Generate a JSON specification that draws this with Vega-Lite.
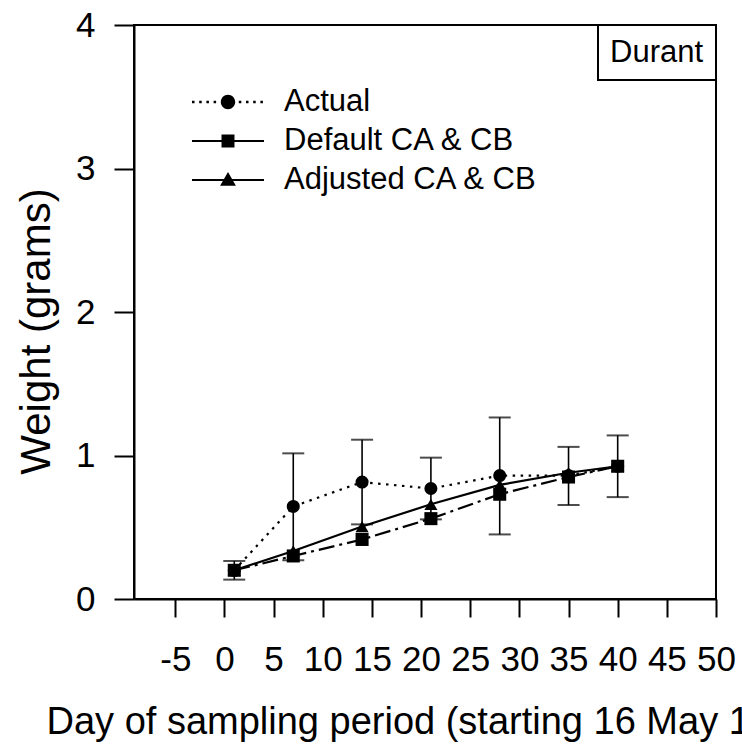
{
  "$schema": "https://vega.github.io/schema/vega-lite/v6.json",
  "width": 582,
  "height": 574,
  "autosize": {"type": "none"},
  "padding": {"left": 134, "top": 25, "right": 26, "bottom": 148},
  "background": "white",
  "config": {
    "font": "Liberation Sans",
    "view": {"stroke": "black", "strokeWidth": 2},
    "axis": {"grid": false, "domainColor": "black", "domainWidth": 2, "tickColor": "black", "tickWidth": 2, "labelColor": "black", "titleColor": "black", "titleFontWeight": "normal", "labelFlush": false, "labelOverlap": false}
  },
  "data": {
    "values": [
      {"series": "Actual", "day": 1, "weight": 0.20, "lo": 0.135, "hi": 0.265},
      {"series": "Actual", "day": 7, "weight": 0.645, "lo": 0.27, "hi": 1.015},
      {"series": "Actual", "day": 14, "weight": 0.815, "lo": 0.52, "hi": 1.11},
      {"series": "Actual", "day": 21, "weight": 0.77, "lo": 0.555, "hi": 0.985},
      {"series": "Actual", "day": 28, "weight": 0.86, "lo": 0.45, "hi": 1.265},
      {"series": "Actual", "day": 35, "weight": 0.86, "lo": 0.655, "hi": 1.06},
      {"series": "Actual", "day": 40, "weight": 0.925, "lo": 0.71, "hi": 1.14},
      {"series": "Default CA & CB", "day": 1, "weight": 0.20},
      {"series": "Default CA & CB", "day": 7, "weight": 0.30},
      {"series": "Default CA & CB", "day": 14, "weight": 0.415},
      {"series": "Default CA & CB", "day": 21, "weight": 0.56},
      {"series": "Default CA & CB", "day": 28, "weight": 0.73},
      {"series": "Default CA & CB", "day": 35, "weight": 0.85},
      {"series": "Default CA & CB", "day": 40, "weight": 0.925},
      {"series": "Adjusted CA & CB", "day": 1, "weight": 0.20},
      {"series": "Adjusted CA & CB", "day": 7, "weight": 0.335},
      {"series": "Adjusted CA & CB", "day": 14, "weight": 0.505},
      {"series": "Adjusted CA & CB", "day": 21, "weight": 0.66},
      {"series": "Adjusted CA & CB", "day": 28, "weight": 0.795},
      {"series": "Adjusted CA & CB", "day": 35, "weight": 0.88},
      {"series": "Adjusted CA & CB", "day": 40, "weight": 0.925}
    ]
  },
  "encoding": {
    "x": {
      "field": "day", "type": "quantitative",
      "scale": {"domain": [-9.2, 50], "nice": false, "zero": false},
      "axis": {
        "values": [-5, 0, 5, 10, 15, 20, 25, 30, 35, 40, 45, 50],
        "labelExpr": "'' + datum.value",
        "tickSize": 18, "labelFontSize": 35, "labelPadding": 25,
        "title": "Day of sampling period (starting 16 May 1999)",
        "titleFontSize": 38, "titleAnchor": "start", "titleAlign": "left",
        "titleX": -88, "titleY": 134, "titleBaseline": "alphabetic", "titleLimit": 3000
      }
    }
  },
  "resolve": {"scale": {"shape": "independent"}, "legend": {"shape": "independent"}},
  "layer": [
    {
      "transform": [{"filter": "datum.series === 'Actual'"}],
      "mark": {"type": "errorbar", "ticks": {"size": 22, "thickness": 2}, "rule": {"strokeWidth": 1.6}},
      "encoding": {
        "y": {"field": "lo", "type": "quantitative", "scale": {"domain": [0, 4], "nice": false},
          "axis": {"values": [0, 1, 2, 3, 4], "labelExpr": "'' + datum.value", "tickSize": 20, "labelFontSize": 35, "labelPadding": 19,
            "title": "Weight (grams)", "titleFontSize": 42, "titleAngle": 270, "titleAlign": "center", "titleBaseline": "middle", "titleX": -98, "titleY": 306}},
        "y2": {"field": "hi"},
        "color": {"datum": "Durant", "scale": {"range": ["black"]},
          "legend": {"title": null, "orient": "top-right", "offset": 0, "symbolSize": 0, "symbolOpacity": 0, "symbolStrokeWidth": 0,
            "labelFontSize": 31, "labelColor": "black", "labelOffset": -31, "padding": 12, "strokeColor": "black",
            "encode": {"legend": {"update": {"strokeWidth": {"value": 2}}}}}}
      }
    },
    {
      "transform": [{"filter": "datum.series === 'Actual'"}],
      "mark": {"type": "line", "color": "black", "strokeWidth": 2.2, "strokeDash": [2.5, 5.5]},
      "encoding": {"y": {"field": "weight", "type": "quantitative"}}
    },
    {
      "transform": [{"filter": "datum.series === 'Default CA & CB'"}],
      "mark": {"type": "line", "color": "black", "strokeWidth": 2.2, "strokeDash": [16, 5, 3, 5]},
      "encoding": {"y": {"field": "weight", "type": "quantitative"}}
    },
    {
      "transform": [{"filter": "datum.series === 'Adjusted CA & CB'"}],
      "mark": {"type": "line", "color": "black", "strokeWidth": 2.2},
      "encoding": {"y": {"field": "weight", "type": "quantitative"}}
    },
    {
      "mark": {"type": "point", "filled": true, "color": "black", "opacity": 1, "size": 170},
      "encoding": {
        "y": {"field": "weight", "type": "quantitative"},
        "shape": {"field": "series", "type": "nominal",
          "scale": {"domain": ["Actual", "Default CA & CB", "Adjusted CA & CB"], "range": ["circle", "square", "triangle-up"]},
          "legend": null}
      }
    },
    {
      "transform": [{"filter": "false"}],
      "mark": {"type": "point", "filled": true, "color": "black", "opacity": 1},
      "encoding": {
        "y": {"field": "weight", "type": "quantitative"},
        "shape": {"field": "series", "type": "nominal",
          "scale": {"domain": ["Actual", "Default CA & CB", "Adjusted CA & CB"],
            "range": [
              "M-0.4,0A0.4,0.4 0 1,1 0.4,0A0.4,0.4 0 1,1 -0.4,0ZM-2,-0.07h0.14v0.14h-0.14ZM-1.6,-0.07h0.14v0.14h-0.14ZM-1.2,-0.07h0.14v0.14h-0.14ZM-0.8,-0.07h0.14v0.14h-0.14ZM0.6,-0.07h0.14v0.14h-0.14ZM1,-0.07h0.14v0.14h-0.14ZM1.4,-0.07h0.14v0.14h-0.14ZM1.8,-0.07h0.14v0.14h-0.14Z",
              "M-2,-0.06H2V0.06H-2ZM-0.36,-0.36H0.36V0.36H-0.36Z",
              "M-2,-0.06H2V0.06H-2ZM0,-0.44L0.44,0.32H-0.44Z"
            ]},
          "legend": {"title": null, "orient": "none", "legendX": 76, "legendY": 59, "direction": "vertical",
            "symbolSize": 1296, "symbolFillColor": "black", "symbolStrokeWidth": 0, "symbolOpacity": 1,
            "labelFontSize": 31, "labelColor": "black", "labelOffset": 38, "labelLimit": 500,
            "rowPadding": 6, "padding": 0}
        }
      }
    }
  ]
}
